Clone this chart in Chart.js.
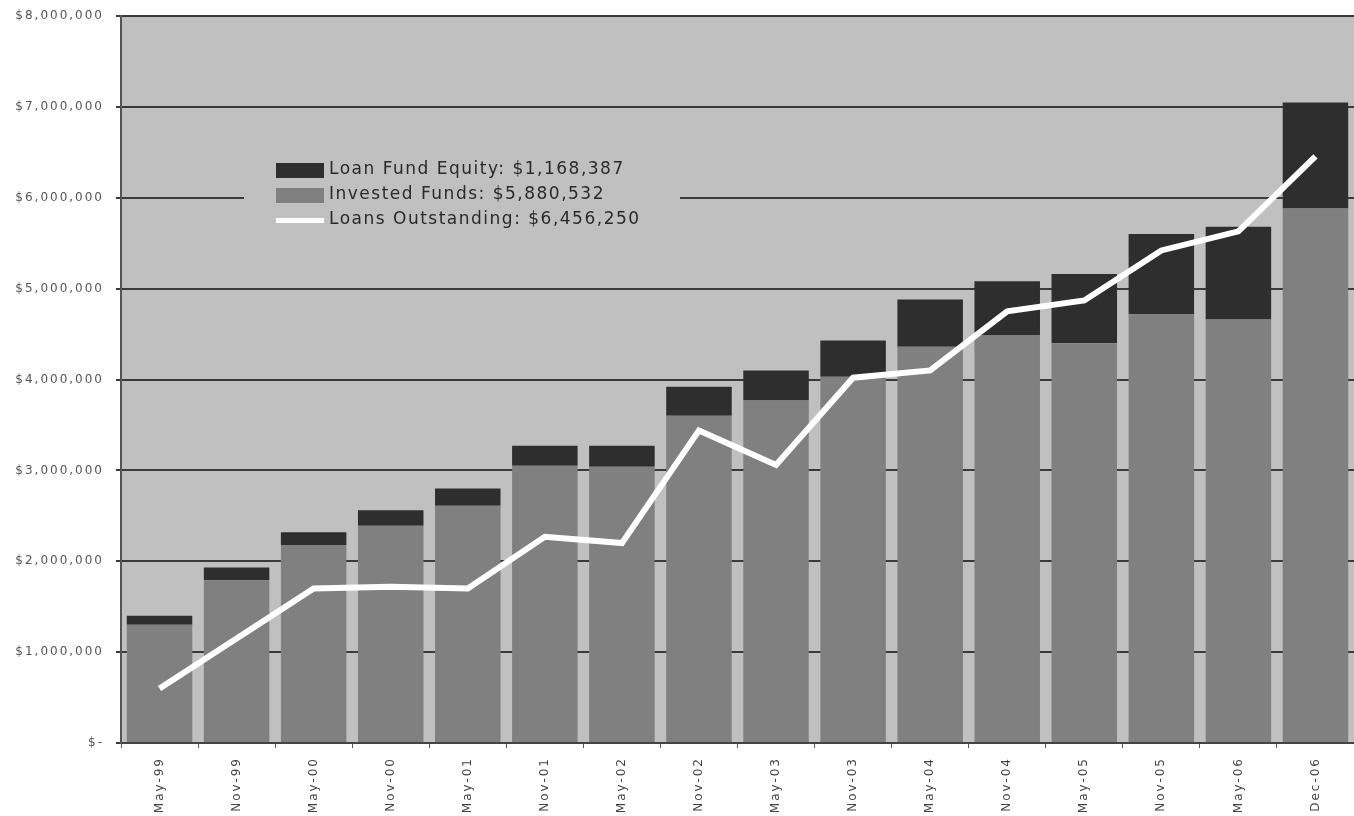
<!DOCTYPE html>
<html>
<head>
<meta charset="utf-8">
<script src="https://cdn.jsdelivr.net/npm/chart.js@4"></script>
<style>
  html, body { margin: 0; padding: 0; background: #ffffff; }
  #wrap { width: 1354px; height: 816px; position: relative; }
</style>
</head>
<body>
<div id="wrap"><canvas id="loanChart" width="1354" height="816"></canvas></div>
<script>
// dates of each snapshot
const periods = ['May-99', 'Nov-99', 'May-00', 'Nov-00', 'May-01', 'Nov-01', 'May-02', 'Nov-02',
                 'May-03', 'Nov-03', 'May-04', 'Nov-04', 'May-05', 'Nov-05', 'May-06', 'Dec-06'];

// values (last ones from the legend)
const investedFunds = [1300000, 1790000, 2180000, 2390000, 2610000, 3050000, 3040000, 3600000,
                       3770000, 4030000, 4360000, 4490000, 4400000, 4720000, 4660000, 5880532];
const loanFundEquity = [100000, 140000, 140000, 170000, 190000, 220000, 230000, 320000,
                        330000, 400000, 520000, 590000, 760000, 880000, 1020000, 1168387];
const loansOutstanding = [600000, 1150000, 1700000, 1720000, 1700000, 2270000, 2200000, 3440000,
                          3060000, 4020000, 4100000, 4750000, 4870000, 5420000, 5630000, 6456250];

const yTicks = [0, 1000000, 2000000, 3000000, 4000000, 5000000, 6000000, 7000000, 8000000];

function dollars(v) {
    if (v === 0) return '$-';
    return '$' + v.toLocaleString('en-US');
}

function lastLabel(name, arr) {
    return name + ': ' + dollars(arr[arr.length - 1]);
}

// grey plot background + the wide spaced axis text of the scan
const plotBg = {
    id: 'plotBg',
    beforeDraw(chart) {
        const { ctx, chartArea: a } = chart;
        ctx.letterSpacing = '2px';
        ctx.save();
        ctx.fillStyle = '#c0c0c0';
        ctx.fillRect(a.left, a.top, a.right - a.left, a.bottom - a.top);
        ctx.restore();
    }
};

// legend sits inside the plot, over the gridline
const innerLegend = {
    id: 'innerLegend',
    afterDatasetsDraw(chart) {
        const ctx = chart.ctx;
        const order = [1, 0, 2];
        ctx.save();
        ctx.fillStyle = '#c0c0c0';
        ctx.fillRect(244, 150, 436, 88);
        ctx.font = '17px "DejaVu Sans", Verdana, sans-serif';
        ctx.letterSpacing = '1.5px';
        ctx.textBaseline = 'middle';
        order.forEach((idx, i) => {
            const ds = chart.data.datasets[idx];
            const y = 170 + i * 25;
            if (ds.type === 'line') {
                ctx.fillStyle = '#ffffff';
                ctx.fillRect(276, y - 2, 48, 5);
            } else {
                ctx.fillStyle = ds.backgroundColor;
                ctx.fillRect(276, y - 7, 48, 15);
            }
            ctx.fillStyle = '#2a2a2a';
            ctx.fillText(ds.label, 329, y);
        });
        ctx.restore();
    }
};

const ctx = document.getElementById('loanChart').getContext('2d');

new Chart(ctx, {
    type: 'bar',
    data: {
        labels: periods,
        datasets: [
            {
                label: lastLabel('Invested Funds', investedFunds),
                data: investedFunds,
                backgroundColor: '#808080',
                stack: 'funds',
                order: 1,
                barPercentage: 0.85,
                categoryPercentage: 1.0
            },
            {
                label: lastLabel('Loan Fund Equity', loanFundEquity),
                data: loanFundEquity,
                backgroundColor: '#2e2e2e',
                stack: 'funds',
                order: 1,
                barPercentage: 0.85,
                categoryPercentage: 1.0
            },
            {
                type: 'line',
                label: lastLabel('Loans Outstanding', loansOutstanding),
                data: loansOutstanding,
                borderColor: '#ffffff',
                borderWidth: 6,
                pointRadius: 0,
                tension: 0,
                stack: 'loans',
                order: 0
            }
        ]
    },
    options: {
        responsive: false,
        animation: false,
        devicePixelRatio: 1,
        layout: { padding: { top: 16, right: 0, left: 0, bottom: 0 } },
        plugins: {
            legend: { display: false },
            tooltip: { enabled: false }
        },
        scales: {
            x: {
                stacked: true,
                offset: true,
                afterFit(scale) { scale.height = 73; },
                grid: {
                    offset: true,
                    drawOnChartArea: false,
                    drawTicks: true,
                    tickLength: 5,
                    color: '#555555',
                    lineWidth: 1
                },
                border: { color: '#444444', width: 2 },
                ticks: {
                    autoSkip: false,
                    minRotation: 90,
                    maxRotation: 90,
                    padding: 9,
                    color: '#444444',
                    font: { family: '"DejaVu Sans", Verdana, sans-serif', size: 12 }
                }
            },
            y: {
                stacked: true,
                min: 0,
                max: 8000000,
                afterFit(scale) {
                    scale.width = 121;
                    scale.paddingTop = 0;
                    scale.paddingBottom = 0;
                },
                afterBuildTicks(scale) { scale.ticks = yTicks.map(v => ({ value: v })); },
                grid: {
                    color: '#3a3a3a',
                    lineWidth: 2,
                    drawTicks: true,
                    tickLength: 5
                },
                border: { color: '#555555', width: 2 },
                ticks: {
                    autoSkip: false,
                    padding: 12,
                    color: '#555555',
                    font: { family: '"DejaVu Sans", Verdana, sans-serif', size: 12 },
                    callback: (v) => dollars(v)
                }
            }
        }
    },
    plugins: [plotBg, innerLegend]
});
</script>
</body>
</html>
